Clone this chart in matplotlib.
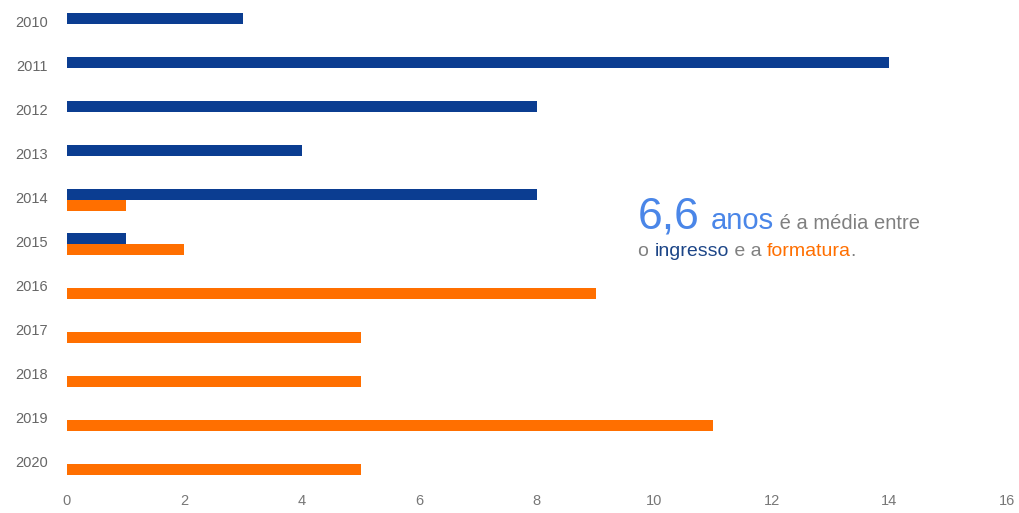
import matplotlib.pyplot as plt
import numpy as np

plt.rcParams['font.family'] = ['Liberation Sans', 'DejaVu Sans']

anos = ["2010", "2011", "2012", "2013", "2014", "2015",
        "2016", "2017", "2018", "2019", "2020"]
ingresso = [3, 14, 8, 4, 8, 1, 0, 0, 0, 0, 0]
formatura = [0, 0, 0, 0, 1, 2, 9, 5, 5, 11, 5]

AZUL = "#0b3d91"
LARANJA = "#ff6f00"
CINZA = "#808080"

fig = plt.figure(figsize=(10.19, 5.13), dpi=100)
ax = fig.add_axes([0.0657, 0.0526, 0.9223, 0.9435])

y = np.arange(len(anos))
h = 0.25
ing = np.array(ingresso, dtype=float)
form = np.array(formatura, dtype=float)
ax.barh(y[ing > 0] - h / 2, ing[ing > 0], height=h, color=AZUL)
ax.barh(y[form > 0] + h / 2, form[form > 0], height=h, color=LARANJA)

ax.set_ylim(len(anos) - 0.5, -0.5)
ax.set_xlim(0, 16)
ax.set_xticks(range(0, 17, 2))
ax.set_yticks(y - 0.06)
ax.set_yticklabels(anos)
ax.tick_params(axis='y', length=0, pad=14, labelsize=10.5, labelcolor="#666666")
ax.tick_params(axis='x', length=0, pad=6, labelsize=10.5, labelcolor="#777777")
for s in ax.spines.values():
    s.set_visible(False)


def texto_colorido(x, y, partes):
    # desenha pedaços de texto em sequência, cada um com sua cor/tamanho
    renderer = fig.canvas.get_renderer()
    cx = x
    for txt, cor, tam in partes:
        t = fig.text(cx / fig.bbox.width, 1 - y / fig.bbox.height, txt,
                     color=cor, fontsize=tam, ha='left', va='baseline')
        bb = t.get_window_extent(renderer=renderer)
        cx += bb.width


texto_colorido(638, 229, [("6,6", "#4a86e8", 32), ("  ", CINZA, 14),
                          ("anos", "#4a86e8", 21), (" é a média entre", CINZA, 14.5)])
texto_colorido(638, 256, [("o ", CINZA, 14), ("ingresso", "#1c4587", 14),
                          (" e a ", CINZA, 14), ("formatura", LARANJA, 14),
                          (".", CINZA, 14)])

fig.savefig("out.png", dpi=100)
